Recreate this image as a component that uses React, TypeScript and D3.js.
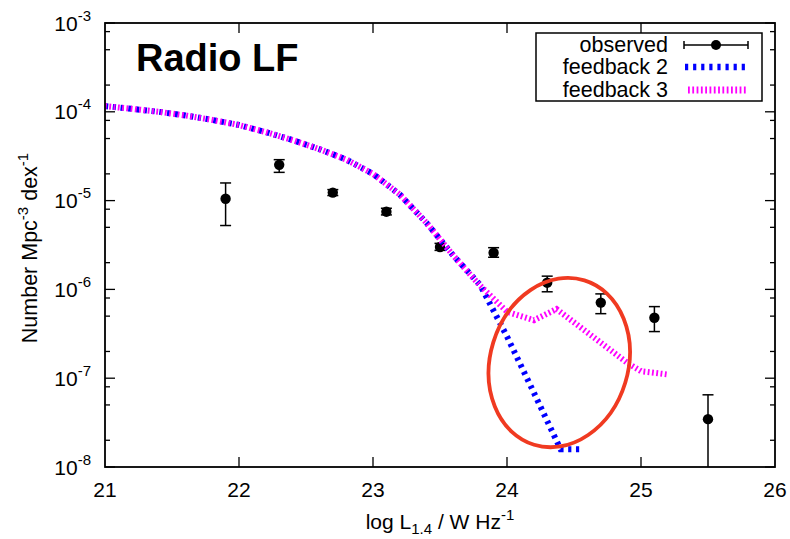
import React from "react";
import * as d3 from "d3";

// Observed radio luminosity function (log L_1.4 bins, number density and error range)
const obsLogL = [21.9, 22.3, 22.7, 23.1, 23.5, 23.9, 24.3, 24.7, 25.1, 25.5];
const obsPhi = [1.05e-5, 2.53e-5, 1.23e-5, 7.5e-6, 3.0e-6, 2.59e-6, 1.19e-6, 7.1e-7, 4.8e-7, 3.46e-8];
const obsHi = [1.58e-5, 2.89e-5, 1.33e-5, 8.2e-6, 3.3e-6, 2.95e-6, 1.41e-6, 8.9e-7, 6.4e-7, 6.5e-8];
const obsLo = [5.24e-6, 2.08e-5, 1.14e-5, 6.9e-6, 2.75e-6, 2.3e-6, 9.4e-7, 5.33e-7, 3.35e-7, 5e-9];

// Model predictions
const fb2LogL = [21.0, 21.2, 21.4, 21.6, 21.8, 22.0, 22.2, 22.4, 22.6, 22.8, 23.0, 23.2, 23.4, 23.6, 23.8, 24.0, 24.2, 24.4, 24.55];
const fb2Phi = [1.16e-4, 1.08e-4, 1.0e-4, 9.1e-5, 8.1e-5, 7.1e-5, 5.9e-5, 4.8e-5, 3.8e-5, 2.9e-5, 2.0e-5, 1.17e-5, 5.6e-6, 2.4e-6, 1.12e-6, 2.95e-7, 6.9e-8, 1.58e-8, 1.58e-8];
const fb3LogL = [21.0, 21.2, 21.4, 21.6, 21.8, 22.0, 22.2, 22.4, 22.6, 22.8, 23.0, 23.2, 23.4, 23.6, 23.8, 24.0, 24.2, 24.37, 24.9, 25.0, 25.2];
const fb3Phi = [1.16e-4, 1.08e-4, 1.0e-4, 9.1e-5, 8.1e-5, 7.1e-5, 5.9e-5, 4.8e-5, 3.8e-5, 2.9e-5, 2.0e-5, 1.17e-5, 5.6e-6, 2.4e-6, 1.1e-6, 5.6e-7, 4.5e-7, 6.0e-7, 1.48e-7, 1.2e-7, 1.1e-7];

const xTicks = [21, 22, 23, 24, 25, 26];
const yExponents = [-3, -4, -5, -6, -7, -8];
const minorMultipliers = [2, 5, 8];
const legendLabels = ["observed", "feedback 2", "feedback 3"];

const W = 790;
const H = 539;
const left = 105, right = 775, top = 23, bottom = 467;
const FONT = "'Liberation Sans', Arial, Helvetica, sans-serif";
const BLUE = "#0000ff";
const MAGENTA = "#ff00ff";

export default function App() {
  const x = d3.scaleLinear().domain([21, 26]).range([left, right]);
  const y = d3.scaleLog().domain([1e-8, 1e-3]).range([bottom, top]);

  const line = d3
    .line<[number, number]>()
    .x((d) => x(d[0]))
    .y((d) => y(d[1]));

  const fb2 = fb2LogL.map((l, i) => [l, fb2Phi[i]] as [number, number]);
  const fb3 = fb3LogL.map((l, i) => [l, fb3Phi[i]] as [number, number]);

  const minorTicks: number[] = [];
  for (let e = -8; e < -3; e++) {
    for (const m of minorMultipliers) minorTicks.push(m * Math.pow(10, e));
  }

  const cy = (v: number) => Math.max(top, Math.min(bottom, y(v)));

  // highlight ring around the high-luminosity end
  const ringX = x(24.39);
  const ringY = y(1.5e-7);

  const legRows = [45, 67, 90];

  return (
    <svg width={W} height={H} style={{ position: "absolute", left: 0, top: 0 }} fontFamily={FONT}>
      <rect width={W} height={H} fill="#fff" />
      <defs>
        <clipPath id="plotArea">
          <rect x={left} y={top} width={right - left} height={bottom - top} />
        </clipPath>
      </defs>

      {/* ticks */}
      <g stroke="#000" strokeWidth={1.3}>
        {xTicks.slice(1, -1).map((t) => (
          <g key={"xt" + t}>
            <line x1={x(t)} x2={x(t)} y1={bottom} y2={bottom - 10} />
            <line x1={x(t)} x2={x(t)} y1={top} y2={top + 10} />
          </g>
        ))}
        {yExponents.map((e) => (
          <g key={"yt" + e}>
            <line x1={left} x2={left + 10} y1={y(Math.pow(10, e))} y2={y(Math.pow(10, e))} />
            <line x1={right} x2={right - 10} y1={y(Math.pow(10, e))} y2={y(Math.pow(10, e))} />
          </g>
        ))}
        {minorTicks.map((v, i) => (
          <g key={"ym" + i}>
            <line x1={left} x2={left + 5} y1={y(v)} y2={y(v)} />
            <line x1={right} x2={right - 5} y1={y(v)} y2={y(v)} />
          </g>
        ))}
      </g>

      {/* tick labels */}
      <g fontSize={21} fill="#000">
        {xTicks.map((t) => (
          <text key={"xl" + t} x={x(t)} y={497} textAnchor="middle">
            {t}
          </text>
        ))}
        {yExponents.map((e) => (
          <text key={"yl" + e} x={91} y={y(Math.pow(10, e)) + 7.5} textAnchor="end">
            <tspan>10</tspan>
            <tspan dy={-10} fontSize={15}>
              {String(e)}
            </tspan>
          </text>
        ))}
      </g>

      {/* axis titles */}
      <text x={0} y={0} fontSize={21.5} textAnchor="middle" transform={`translate(37, ${(top + bottom) / 2 + 3}) rotate(-90)`}>
        <tspan>Number Mpc</tspan>
        <tspan dy={-9} fontSize={15}>-3</tspan>
        <tspan dy={9}> dex</tspan>
        <tspan dy={-9} fontSize={15}>-1</tspan>
      </text>
      <text x={(left + right) / 2} y={529} fontSize={21} textAnchor="middle">
        <tspan>log L</tspan>
        <tspan dy={5} fontSize={15}>1.4</tspan>
        <tspan dy={-5}> / W Hz</tspan>
        <tspan dy={-9} fontSize={15}>-1</tspan>
      </text>

      <g clipPath="url(#plotArea)">
        {/* observed points */}
        {obsLogL.map((l, i) => {
          const px = x(l);
          const hi = cy(obsHi[i]);
          const lo = cy(obsLo[i]);
          return (
            <g key={"o" + i}>
              <line x1={px} x2={px} y1={hi} y2={lo} stroke="#000" strokeWidth={1.5} />
              {y(obsHi[i]) >= top && <line x1={px - 5.5} x2={px + 5.5} y1={hi} y2={hi} stroke="#000" strokeWidth={1.5} />}
              {y(obsLo[i]) <= bottom && <line x1={px - 5.5} x2={px + 5.5} y1={lo} y2={lo} stroke="#000" strokeWidth={1.5} />}
              <circle cx={px} cy={y(obsPhi[i])} r={5.2} fill="#000" />
            </g>
          );
        })}

        {/* model curves */}
        <path d={line(fb2) || ""} fill="none" stroke={BLUE} strokeWidth={6} strokeDasharray="3.2,4.6" />
        <path d={line(fb3) || ""} fill="none" stroke={MAGENTA} strokeWidth={6} strokeDasharray="1.8,2.5" />
      </g>

      {/* frame */}
      <rect x={left} y={top} width={right - left} height={bottom - top} fill="none" stroke="#000" strokeWidth={1.8} />

      {/* legend */}
      <rect x={536} y={33} width={226} height={68} fill="#fff" stroke="#000" strokeWidth={1.5} />
      <g fontSize={21.5} textAnchor="end">
        {legendLabels.map((lab, i) => (
          <text key={lab} x={668} y={legRows[i] + 7}>
            {lab}
          </text>
        ))}
      </g>
      <g stroke="#000" strokeWidth={1.5}>
        <line x1={684} x2={748} y1={legRows[0]} y2={legRows[0]} />
        <line x1={684} x2={684} y1={legRows[0] - 4} y2={legRows[0] + 4} />
        <line x1={748} x2={748} y1={legRows[0] - 4} y2={legRows[0] + 4} />
      </g>
      <circle cx={716} cy={legRows[0]} r={5} fill="#000" />
      <line x1={685} x2={745} y1={legRows[1]} y2={legRows[1]} stroke={BLUE} strokeWidth={6.5} strokeDasharray="3.2,4.9" />
      <line x1={688} x2={747} y1={legRows[2]} y2={legRows[2]} stroke={MAGENTA} strokeWidth={7} strokeDasharray="1.8,2.5" />

      {/* title */}
      <text x={136} y={71} fontSize={38} fontWeight="bold">
        Radio LF
      </text>

      {/* highlight ring */}
      <ellipse
        cx={ringX}
        cy={ringY}
        rx={69}
        ry={86}
        transform={`rotate(17 ${ringX} ${ringY})`}
        fill="none"
        stroke="#f03a21"
        strokeWidth={3.8}
      />
    </svg>
  );
}
